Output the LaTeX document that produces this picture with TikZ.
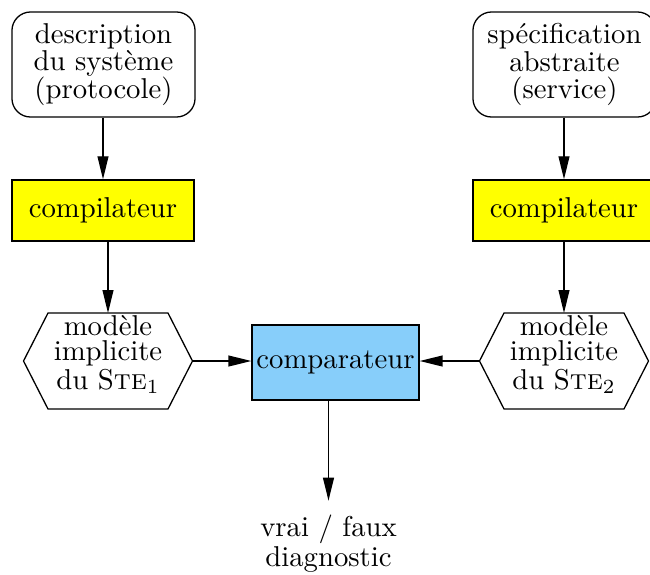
\documentclass[tikz,border=0pt]{standalone}
\usetikzlibrary{arrows.meta}
\definecolor{compyellow}{RGB}{255,255,0}
\definecolor{cmpblue}{RGB}{135,206,250}
\tikzset{
  conn/.style={-{Triangle[length=8pt,width=3.8pt]}},
  srcbox/.style={draw, rounded corners=6.5pt, minimum width=63.8pt, minimum height=36.6pt,
    align=center, inner sep=0pt, font=\fontsize{10}{9.7}\selectfont},
  compbox/.style={draw, fill=compyellow, minimum width=63.4pt, minimum height=21.3pt, inner sep=0pt},
  cmpbox/.style={draw, fill=cmpblue, minimum width=58.2pt, minimum height=26.1pt, inner sep=0pt},
  hexa/.style={minimum width=41.8pt, minimum height=33.45pt, inner sep=0pt, outer sep=0pt,
    align=center, font=\fontsize{10}{8.8}\selectfont},
  hexline/.style={draw},
  result/.style={align=center, inner sep=4.7pt, font=\fontsize{10}{9.4}\selectfont},
}
\newcommand{\hexoutline}[1]{%
  \draw[hexline] (#1.north west) -- (#1.north east) -- ([xshift=8.54pt]#1.east)
    -- (#1.south east) -- (#1.south west) -- ([xshift=-8.54pt]#1.west) -- cycle;}
\begin{document}
\begin{tikzpicture}[x=0.3484pt, y=-0.3484pt, line width=0.45pt]
  \useasboundingbox (0,0) rectangle (650,574);

  % sources
  \node[srcbox] (desc) at (103.5,64.5) {description\\du système\\(protocole)};
  \node[srcbox] (spec) at (564.5,64.5) {spécification\\abstraite\\(service)};

  % compilers
  \node[compbox] (comp1) at (103,210.5) {compilateur};
  \node[compbox] (comp2) at (564,210.5) {compilateur};

  % implicit models
  \node[hexa] (hex1) at (108,361) {modèle\\implicite\\du S\textsc{te}$_1$\rule[-6pt]{0pt}{6pt}};
  \node[hexa] (hex2) at (564,361) {modèle\\implicite\\du S\textsc{te}$_2$\rule[-6pt]{0pt}{6pt}};
  \hexoutline{hex1}
  \hexoutline{hex2}
  \coordinate (h1tip) at ([xshift=8.54pt]hex1.east);
  \coordinate (h2tip) at ([xshift=-8.54pt]hex2.west);

  % comparator and result
  \node[cmpbox] (cmp) at (335.5,362.5) {comparateur};
  \node[result] (out) at (328.5,543.5) {vrai / faux\\diagnostic};

  % connectors
  \draw[conn] (desc.south -| comp1.north) -- (comp1.north);
  \draw[conn] (spec.south -| comp2.north) -- (comp2.north);
  \draw[conn] (comp1.south -| hex1.north) -- (hex1.north);
  \draw[conn] (comp2.south -| hex2.north) -- (hex2.north);
  \draw[conn] (h1tip) -- (h1tip -| cmp.west);
  \draw[conn] (h2tip) -- (h2tip -| cmp.east);
  \draw[conn] (cmp.south -| out.north) -- (out.north);
\end{tikzpicture}
\end{document}
